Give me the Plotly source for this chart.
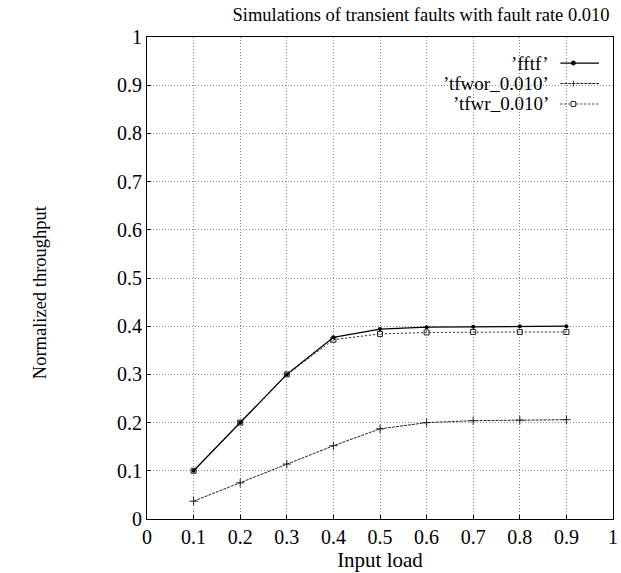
import plotly.graph_objects as go

input_load = [0.1, 0.2, 0.3, 0.4, 0.5, 0.6, 0.7, 0.8, 0.9]
fftf = [0.100, 0.200, 0.300, 0.377, 0.394, 0.398, 0.399, 0.400, 0.400]
tfwor_0010 = [0.037, 0.075, 0.114, 0.152, 0.187, 0.200, 0.204, 0.205, 0.206]
tfwr_0010 = [0.100, 0.200, 0.300, 0.372, 0.384, 0.387, 0.388, 0.388, 0.388]
series_names = ["’fftf’", "’tfwor_0.010’", "’tfwr_0.010’"]
tick_vals = [0, 0.1, 0.2, 0.3, 0.4, 0.5, 0.6, 0.7, 0.8, 0.9, 1]
tick_text = ["0", "0.1", "0.2", "0.3", "0.4", "0.5", "0.6", "0.7", "0.8", "0.9", "1"]

FONT = "Liberation Serif"

fig = go.Figure()
fig.add_trace(go.Scatter(x=input_load, y=tfwor_0010, mode="lines+markers",
                         line=dict(color="#222", width=1, dash="3px,1px"),
                         marker=dict(symbol="cross-thin", size=6, line=dict(color="#222", width=1)),
                         name=series_names[1], showlegend=False))
fig.add_trace(go.Scatter(x=input_load, y=tfwr_0010, mode="lines+markers",
                         line=dict(color="#222", width=1, dash="2px,2px"),
                         marker=dict(symbol="square-open", size=5, color="#222", line=dict(width=1)),
                         name=series_names[2], showlegend=False))
fig.add_trace(go.Scatter(x=input_load, y=fftf, mode="lines+markers",
                         line=dict(color="black", width=1.3),
                         marker=dict(symbol="circle", size=4, color="black"),
                         name=series_names[0], showlegend=False))

# custom legend (text left of sample, gnuplot style)
leg_y = [0.946, 0.9035, 0.861]
styles = [dict(color="black", width=1.3), dict(color="#222", width=1, dash="3px,1px"),
          dict(color="#222", width=1, dash="2px,2px")]
annotations = []
shapes = []
for name, yy, st in zip(series_names, leg_y, styles):
    annotations.append(dict(x=0.864, y=yy, xref="paper", yref="paper", text=name,
                            showarrow=False, xanchor="right", yanchor="middle",
                            borderpad=0,
                            font=dict(family=FONT, size=19, color="black")))
    shapes.append(dict(type="line", xref="paper", yref="paper", x0=0.887, x1=0.970,
                       y0=yy, y1=yy, line=st))
mx = 0.915
dx, dy = 4 / 471, 4 / 482
shapes.append(dict(type="circle", xref="paper", yref="paper", x0=mx - dx * 0.5, x1=mx + dx * 0.5,
                   y0=leg_y[0] - dy * 0.5, y1=leg_y[0] + dy * 0.5, fillcolor="black",
                   line=dict(color="black", width=1)))
shapes.append(dict(type="line", xref="paper", yref="paper", x0=mx, x1=mx,
                   y0=leg_y[1] - dy * 0.7, y1=leg_y[1] + dy * 0.7, line=dict(color="#222", width=1)))
shapes.append(dict(type="rect", xref="paper", yref="paper", x0=mx - dx * 0.6, x1=mx + dx * 0.6,
                   y0=leg_y[2] - dy * 0.6, y1=leg_y[2] + dy * 0.6, fillcolor="white",
                   line=dict(color="#222", width=1)))

# y-axis title as rotated annotation (placed like the reference)
annotations.append(dict(x=-0.228, y=0.47, xref="paper", yref="paper",
                        text="Normalized throughput", textangle=-90, showarrow=False,
                        xanchor="center", yanchor="middle",
                        font=dict(family=FONT, size=18.5, color="black")))

axis_common = dict(range=[0, 1], tickvals=tick_vals, ticktext=tick_text,
                   showgrid=True, gridcolor="#888", griddash="1px,2px", gridwidth=1,
                   showline=True, linecolor="black", linewidth=1, mirror=True,
                   ticks="inside", ticklen=4, tickcolor="black", zeroline=False,
                   ticklabeloverflow="allow",
                   tickfont=dict(family=FONT, size=20, color="black"))

fig.update_layout(
    width=621, height=573,
    margin=dict(l=147, r=3, t=37, b=54),
    paper_bgcolor="white", plot_bgcolor="white",
    title=dict(text="Simulations of transient faults with fault rate 0.010",
               x=0.678, xanchor="center", y=0.975, yanchor="middle",
               font=dict(family=FONT, size=18.5, color="black")),
    xaxis=dict(**axis_common, title=dict(text="Input load", standoff=0,
                                         font=dict(family=FONT, size=21, color="black"))),
    yaxis=dict(**axis_common),
    annotations=annotations, shapes=shapes,
)

fig.write_html("out.html")
